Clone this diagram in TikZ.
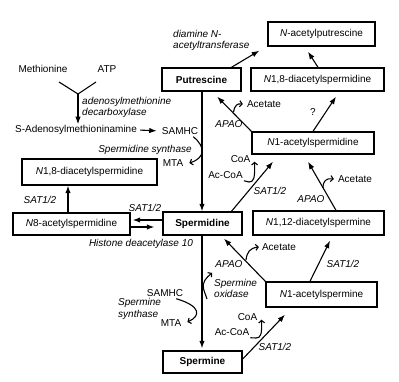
\documentclass[tikz,border=0pt]{standalone}
\usepackage{fontspec}
\setmainfont{Liberation Sans}
\usetikzlibrary{arrows.meta}
\begin{document}
\begin{tikzpicture}[x=1pt,y=-1pt,
  every node/.style={font=\fontsize{10}{11.5}\selectfont, inner sep=1pt},
  box/.style={draw, line width=1.4pt, inner sep=0pt, minimum height=23pt},
  lbl/.style={font=\fontsize{10}{11.5}\selectfont\itshape},
  arr/.style={line width=1.1pt, -{Latex[length=7.5pt,width=5.5pt]}},
  ln/.style={line width=1.1pt},
  hookarr/.style={line width=1.1pt, -{Straight Barb[length=2.5pt,width=6pt]}}]
\useasboundingbox (0,0) rectangle (399,382);
\fill[white] (0,0) rectangle (399,382);
% boxes
\node[box, minimum width=107pt, minimum height=24pt] (nacput) at (321.5,34) {\textit{N}-acetylputrescine};
\node[box, minimum width=79pt] (put) at (201.5,79.5) {\textbf{Putrescine}};
\node[box, minimum width=133pt] (n18r) at (317.5,79.5) {\textit{N}1,8-diacetylspermidine};
\node[box, minimum width=122pt, minimum height=22pt] (n1spd) at (313,143) {\textit{N}1-acetylspermidine};
\node[box, minimum width=135pt, minimum height=26pt] (n18l) at (89.5,172) {\textit{N}1,8-diacetylspermidine};
\node[box, minimum width=117pt, minimum height=22pt] (n8) at (71.5,224) {\textit{N}8-acetylspermidine};
\node[box, minimum width=79pt] (spd) at (202.5,223.5) {\textbf{Spermidine}};
\node[box, minimum width=131pt, minimum height=24pt] (n112) at (318.5,223) {\textit{N}1,12-diacetylspermine};
\node[box, minimum width=111pt, minimum height=25pt] (n1spm) at (321.5,294.5) {\textit{N}1-acetylspermine};
\node[box, minimum width=79pt, minimum height=22pt] (spm) at (202.5,362) {\textbf{Spermine}};
% plain text nodes
\node (meth) at (43,69) {Methionine};
\node (atp) at (107,69) {ATP};
\node (sam) at (76,130) {S-Adenosylmethioninamine};
\node (samhc) at (180,131) {SAMHC};
\node (mta) at (173,163) {MTA};
\node (samhc2) at (165,293) {SAMHC};
\node (mta2) at (171,323) {MTA};
\node (acet1) at (264,104) {Acetate};
\node (acet2) at (355,179) {Acetate};
\node (acet3) at (279,247) {Acetate};
\node (coa1) at (240.5,159) {CoA};
\node (acoa1) at (225.5,175) {Ac-CoA};
\node (coa2) at (247.5,317) {CoA};
\node (acoa2) at (232,332) {Ac-CoA};
\node (q) at (313,112) {?};
% italic labels
\node[lbl, anchor=west, align=left] (dat) at (172,40.5) {diamine N-\\acetyltransferase};
\node[lbl, anchor=west, align=left] (amd) at (81,107.5) {adenosylmethionine\\decarboxylase};
\node[lbl] (sds) at (145,150) {Spermidine synthase};
\node[lbl] (apao1) at (229,124) {APAO};
\node[lbl] (apao2) at (311,199) {APAO};
\node[lbl] (apao3) at (229,264) {APAO};
\node[lbl] (sat1) at (270,191) {SAT1/2};
\node[lbl] (sat2) at (40,200) {SAT1/2};
\node[lbl] (sat3) at (145,208) {SAT1/2};
\node[lbl] (sat4) at (343,264) {SAT1/2};
\node[lbl] (sat5) at (275,347) {SAT1/2};
\node[lbl] (hdac) at (141,244) {Histone deacetylase 10};
\node[lbl, anchor=west, align=left] (smo) at (213,288.5) {Spermine\\oxidase};
\node[lbl, anchor=west, align=left] (sms) at (117,309) {Spermine\\synthase};
% Y junction
\coordinate (y1) at (59,82);
\coordinate (y2) at (96,82);
\coordinate (yj) at (78,94);
\draw[ln, line join=miter] (y1) -- (yj) -- (y2);
\draw[arr] (yj) -- (yj |- sam.north);
\draw[arr, shorten <=2pt, shorten >=4pt] (sam.east) -- (samhc.west);
% main connectors
\draw[arr] ([xshift=30pt]put.north) -- ([xshift=-8pt,yshift=-4pt]nacput.south west);
\draw[arr] ([xshift=0.5pt]n18r.north) -- ([xshift=-13.5pt,yshift=-5pt]nacput.south);
\draw[arr] (put.south -| 202,0) -- (spd.north -| 202,0);
\draw[arr] (spd.south -| 202,0) -- ([yshift=2pt]spm.north -| 202,0);
\draw[arr] ([xshift=-3.5pt]n8.north) -- ([xshift=-21.5pt]n18l.south);
\draw[arr] ([yshift=3.5pt]spd.west) -- ([yshift=4pt,xshift=2pt]n8.east);
\draw[arr] ([yshift=-3pt]n8.east) -- ([yshift=-3.5pt,xshift=-8pt]spd.west);
\draw[arr] ([xshift=29pt]spd.north) -- ([xshift=-40pt,yshift=-7pt]n1spd.south);
\draw[arr] ([xshift=17.5pt]n112.north) -- ([xshift=-5pt,yshift=-7pt]n1spd.south);
\draw[arr] (n1spd.north west) -- ([xshift=-24.5pt,yshift=-5pt]put.south east);
\draw[arr] (n1spd.north) -- ([xshift=18.5pt,yshift=-5pt]n18r.south);
\draw[arr] (n1spm.north west) -- ([xshift=21.5pt,yshift=-3pt]spd.south);
\draw[arr] ([yshift=3pt]spm.east) -- ([xshift=-36.5pt,yshift=-7pt]n1spm.south);
\draw[arr] ([xshift=-11.5pt]n1spm.north) -- ([xshift=11.5pt,yshift=-5pt]n112.south);
% hooks
\draw[hookarr] ([xshift=-6pt,yshift=-1pt]samhc.south east) .. controls (206,147) and (205,158) .. ([xshift=5pt]mta.east);
\draw[hookarr] ([xshift=-8pt,yshift=-1pt]samhc2.south east) .. controls (201,306) and (201,316) .. ([xshift=5pt,yshift=1pt]mta2.east);
\draw[hookarr] (233.5,112) .. controls (235,105) and (237,103.5) .. ([xshift=-3pt]acet1.west);
\draw[hookarr] (323,188) .. controls (323,181) and (326,178) .. ([xshift=-3pt]acet2.west);
\draw[hookarr] (246,260) .. controls (247,252) and (250,248) .. ([xshift=-2pt]acet3.west);
\draw[hookarr] ([yshift=-1pt]acoa1.south east) -- (249,182) .. controls (254,182) and (255,178) .. ([xshift=14pt,yshift=2pt]coa1.south);
\draw[hookarr] ([yshift=-1pt]acoa2.south east) -- (256,338) .. controls (261,338) and (262,334) .. ([xshift=14pt,yshift=2pt]coa2.south);
\draw[hookarr] (207,299) -- (203.5,289) .. controls (202,282) and (206,278) .. ([xshift=-1pt,yshift=5pt]smo.north west);
\end{tikzpicture}
\end{document}
